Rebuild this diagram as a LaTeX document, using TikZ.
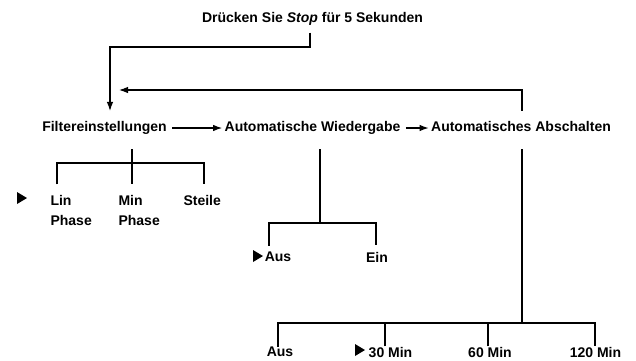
\documentclass[tikz,border=0pt]{standalone}
\usepackage{fontspec}
\setmainfont{Liberation Sans}
\usetikzlibrary{arrows.meta}

\begin{document}
\begin{tikzpicture}[x=1pt, y=-1pt, line width=1.1pt,
  menu/.style = {font=\fontsize{14}{20}\selectfont\bfseries, inner sep=0pt},
  row/.style = {menu, text height=10pt, text depth=3pt, inner xsep=2pt, inner ysep=10pt},
  arr/.style = {-{Latex[length=9pt,width=6.5pt]}},
  tree/.style = {shorten <=4pt},
  pick/.style = {fill=black}]

\useasboundingbox (0,0) rectangle (636,360);

\node[row] (title) at (312.5,18.5) {Drücken Sie \textit{Stop} für 5 Sekunden};

\node[row] (filter) at (104.5,128) {Filtereinstellungen};
\node[row] (wieder) at (312.5,128) {Automatische Wiedergabe};
\node[row] (absch) at (521,128) {Automatisches Abschalten};

\coordinate (back) at (119,90);
\draw[arr, shorten <=-3pt] (title.south -| 310,0) |- (110,47) -- (filter.north -| 110,0);
\draw[arr] (absch.north -| 522,0) |- (back);
\draw[arr, shorten <=3pt] (filter) -- (wieder);
\draw[arr, shorten <=3pt] (wieder) -- (absch);

% Filter
\node[menu, align=left, anchor=west] (linph) at (50,210) {Lin\\Phase};
\node[menu, align=left, anchor=west] (minph) at (118,210) {Min\\Phase};
\node[menu, anchor=west] (steile) at (183,200) {Steile};
\coordinate (fsplit) at (132,163);
\draw[tree, shorten >=10pt] (filter.south -| fsplit) -- (minph.north -| fsplit);
\draw[shorten <=10pt, shorten >=10pt] (linph.north -| 57,0) |- (fsplit) -| (steile.north -| 204,0);
\fill[pick] (17,192) -- (27,198) -- (17,204) -- cycle;

% Wiedergabe
\node[menu] (aus1) at (278,257) {Aus};
\node[menu] (ein) at (377,257) {Ein};
\coordinate (wsplit) at (320,223);
\draw[tree] (wieder.south -| wsplit) -- (wsplit);
\draw[shorten <=6pt, shorten >=6pt] (aus1.north -| 269,0) |- (wsplit) -| (ein.north -| 376,0);
\fill[pick] (253,250) -- (263,256) -- (253,262) -- cycle;

% Abschalten
\node[menu] (aus2) at (280,352) {Aus};
\node[menu] (m30) at (390.5,352) {30 Min};
\node[menu] (m60) at (490,352) {60 Min};
\node[menu] (m120) at (595.5,352) {120 Min};
\coordinate (asplit) at (522,323);
\draw[tree] (absch.south -| asplit) -- (asplit);
\draw (aus2.north -| 278,0) |- (asplit) -| (m120.north -| 595,0);
\draw (m30.north -| 385,0) -- (385,0 |- asplit);
\draw (m60.north -| 488,0) -- (488,0 |- asplit);
\fill[pick] (355,344) -- (365,350) -- (355,356) -- cycle;

\end{tikzpicture}
\end{document}
